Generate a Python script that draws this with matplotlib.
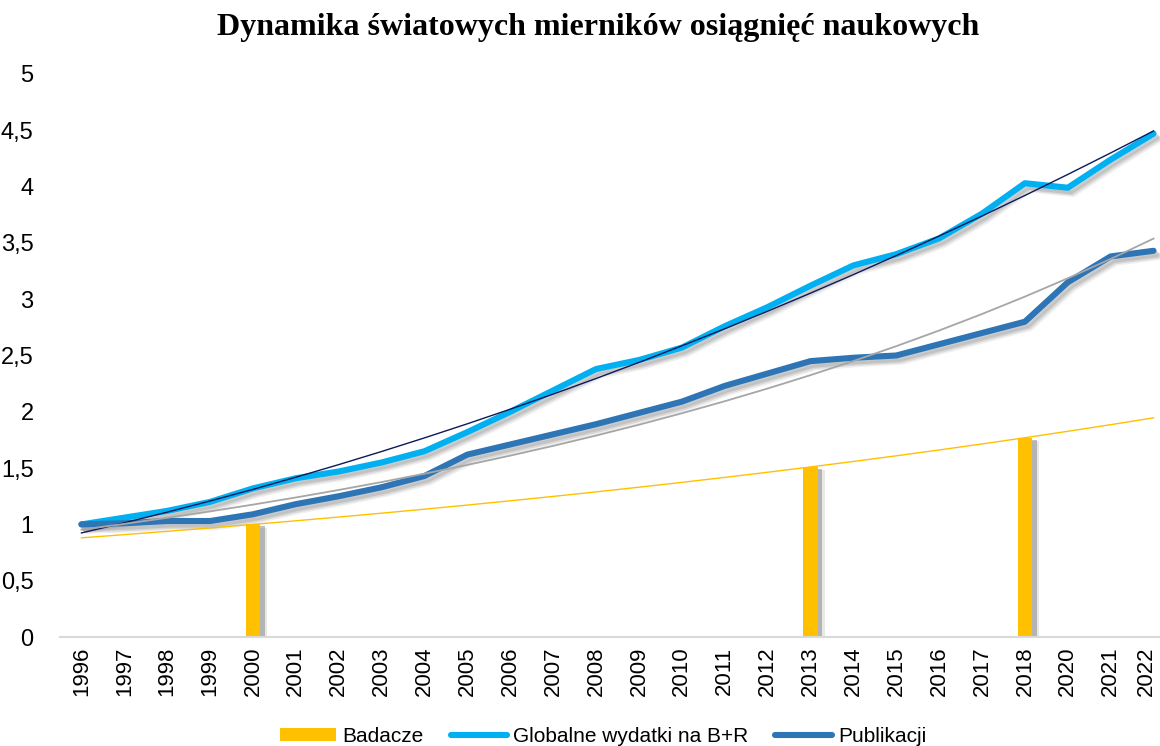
import matplotlib

matplotlib.use("Agg")

import matplotlib.pyplot as plt
import matplotlib.patheffects as pe
import matplotlib.transforms as mtransforms
import numpy as np
from matplotlib.font_manager import fontManager
from matplotlib.lines import Line2D
from matplotlib.patches import Patch
from matplotlib.ticker import FuncFormatter


YEARS = ["1996", "1997", "1998", "1999", "2000", "2001", "2002", "2003", "2004",
         "2005", "2006", "2007", "2008", "2009", "2010", "2011", "2012", "2013",
         "2014", "2015", "2016", "2017", "2018", "2020", "2021", "2022"]

BADACZE = [np.nan, np.nan, np.nan, np.nan, 1.0, np.nan, np.nan, np.nan, np.nan,
           np.nan, np.nan, np.nan, np.nan, np.nan, np.nan, np.nan, np.nan, 1.51,
           np.nan, np.nan, np.nan, np.nan, 1.77, np.nan, np.nan, np.nan]

WYDATKI = [1.0, 1.06, 1.12, 1.2, 1.32, 1.41, 1.47, 1.55, 1.65, 1.82, 2.0, 2.19,
           2.38, 2.46, 2.57, 2.76, 2.93, 3.12, 3.3, 3.4, 3.54, 3.76, 4.03, 3.99,
           4.24, 4.47]

PUBLIKACJI = [1.0, 1.01, 1.03, 1.03, 1.09, 1.18, 1.25, 1.33, 1.43, 1.62, 1.71,
              1.8, 1.89, 1.99, 2.09, 2.23, 2.34, 2.45, 2.48, 2.5, 2.6, 2.7, 2.8,
              3.15, 3.38, 3.43]

SERIES_NAMES = ["Badacze", "Globalne wydatki na B+R", "Publikacji"]
TITLE = "Dynamika światowych mierników osiągnięć naukowych"

YELLOW = "#FFC000"
LIGHT_BLUE = "#00B0F0"
DARK_BLUE = "#2E75B6"
NAVY = "#0B1A5C"
GRAY = "#A6A6A6"


def pick_sans():
    # the original uses a narrow sans; take it if the box has one
    names = {f.name for f in fontManager.ttflist}
    if "Liberation Sans Narrow" in names:
        return ["Liberation Sans Narrow", "DejaVu Sans"], True
    return ["Liberation Sans", "DejaVu Sans"], False


def line_shadow():
    # soft grey drop shadow, a few stacked offsets to fake the blur
    return [
        pe.SimpleLineShadow(offset=(2.0, -2.5), shadow_color="#808080", alpha=0.25),
        pe.SimpleLineShadow(offset=(3.0, -3.5), shadow_color="#808080", alpha=0.2),
        pe.SimpleLineShadow(offset=(4.0, -4.5), shadow_color="#808080", alpha=0.12),
        pe.Normal(),
    ]


def bar_shadow():
    return [
        pe.SimplePatchShadow(offset=(3.5, -1.5), shadow_rgbFace="#8c8c8c", alpha=0.55),
        pe.SimplePatchShadow(offset=(5.0, -2.5), shadow_rgbFace="#8c8c8c", alpha=0.2),
        pe.Normal(),
    ]


def main():
    sans, narrow = pick_sans()
    plt.rcParams["font.family"] = sans
    tick_size = 17 if narrow else 16
    legend_size = 17 if narrow else 15

    x = np.arange(len(YEARS))
    xfit = x + 1.0
    wyd = np.array(WYDATKI)
    pub = np.array(PUBLIKACJI)
    bad = np.array(BADACZE)

    fig = plt.figure(figsize=(11.6, 7.46), dpi=100)
    ax = fig.add_axes([60 / 1160, 109 / 746, 1100 / 1160, 563 / 746])

    # bars
    mask = ~np.isnan(bad)
    bars = ax.bar(x[mask], bad[mask], width=0.33, color=YELLOW, zorder=2)
    for b in bars:
        b.set_path_effects(bar_shadow())

    # series lines
    ax.plot(x, wyd, color=LIGHT_BLUE, lw=4.4, solid_capstyle="round",
            solid_joinstyle="round", path_effects=line_shadow(), zorder=3)
    ax.plot(x, pub, color=DARK_BLUE, lw=4.4, solid_capstyle="round",
            solid_joinstyle="round", path_effects=line_shadow(), zorder=3)

    # trendlines like the spreadsheet ones
    c_wyd = np.polyfit(xfit, wyd, 2)
    ax.plot(x, np.polyval(c_wyd, xfit), color=NAVY, lw=1.0, zorder=5)

    c_pub = np.polyfit(xfit, np.log(pub), 1)
    ax.plot(x, np.exp(np.polyval(c_pub, xfit)), color=GRAY, lw=1.3, zorder=5)

    c_bad = np.polyfit(xfit[mask], np.log(bad[mask]), 1)
    ax.plot(x, np.exp(np.polyval(c_bad, xfit)), color=YELLOW, lw=1.0, zorder=5)

    ax.set_xlim(-0.5, 25.15)
    ax.set_ylim(0, 5)
    ax.set_yticks(np.arange(0, 5.01, 0.5))
    ax.yaxis.set_major_formatter(FuncFormatter(lambda v, p: f"{v:g}".replace(".", ",")))
    ax.set_xticks(x)
    ax.set_xticklabels(YEARS, rotation=90)
    ax.tick_params(axis="both", length=0, labelsize=tick_size, colors="black")
    ax.tick_params(axis="y", labelsize=17, pad=19)
    ax.tick_params(axis="x", pad=7)

    # last year label sits right at the figure edge, nudge it in a bit
    last = ax.get_xticklabels()[-1]
    last.set_transform(last.get_transform()
                       + mtransforms.ScaledTranslation(-5 / 72, 0, fig.dpi_scale_trans))

    for side in ["left", "right", "top"]:
        ax.spines[side].set_visible(False)
    ax.spines["bottom"].set_color("#D9D9D9")
    ax.spines["bottom"].set_linewidth(1.5)

    fig.text(598 / 1160, 1 - 27 / 746, TITLE, ha="center", va="center",
             fontsize=23, fontweight="bold", family=["Liberation Serif", "DejaVu Serif"])

    handles = [
        Patch(facecolor=YELLOW, edgecolor="none"),
        Line2D([0], [0], color=LIGHT_BLUE, lw=4.4, solid_capstyle="round"),
        Line2D([0], [0], color=DARK_BLUE, lw=4.4, solid_capstyle="round"),
    ]
    fig.legend(handles, SERIES_NAMES, loc="center", bbox_to_anchor=(603 / 1160, 10 / 746),
               ncol=3, frameon=False, fontsize=legend_size, handlelength=2.7,
               handleheight=0.6, handletextpad=0.3, columnspacing=1.3, borderaxespad=0)

    fig.savefig("out.png", dpi=100)
    plt.close(fig)


if __name__ == "__main__":
    main()
